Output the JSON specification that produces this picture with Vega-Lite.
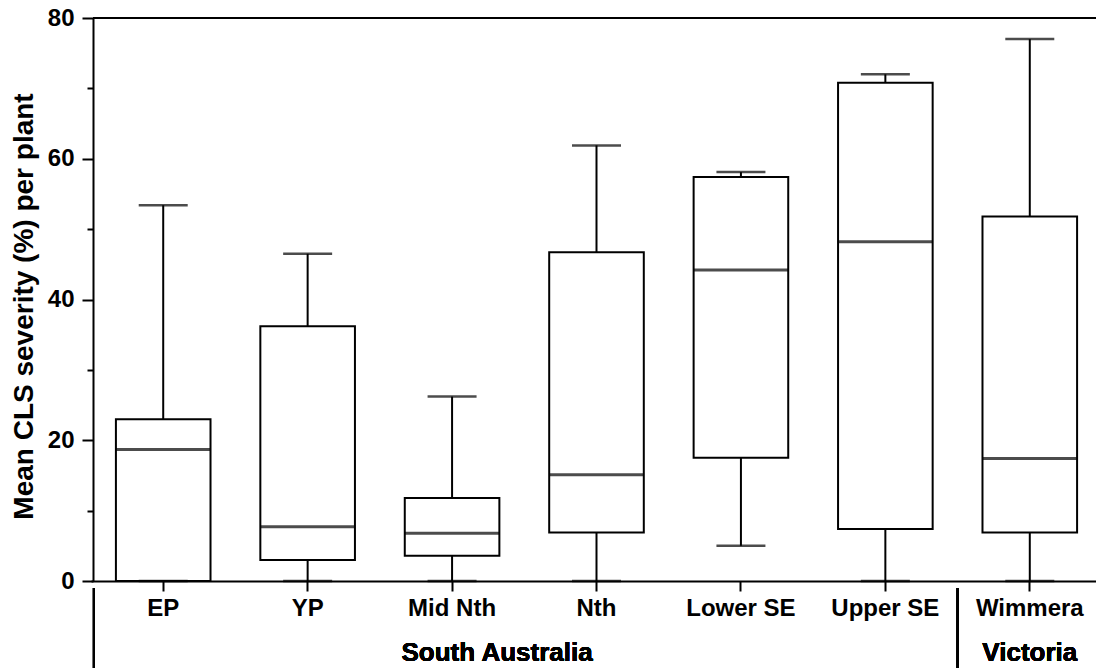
{
  "$schema": "https://vega.github.io/schema/vega-lite/v6.json",
  "width": 1003,
  "height": 563,
  "autosize": {"type": "none"},
  "padding": {"left": 93, "top": 18, "right": 0, "bottom": 87},
  "background": "white",
  "data": {
    "values": [
      {"site": "EP", "min": 0, "q1": 0, "median": 18.7, "q3": 23.0, "max": 53.4},
      {"site": "YP", "min": 0, "q1": 3.0, "median": 7.7, "q3": 36.2, "max": 46.5},
      {"site": "Mid Nth", "min": 0, "q1": 3.6, "median": 6.8, "q3": 11.8, "max": 26.2},
      {"site": "Nth", "min": 0, "q1": 6.9, "median": 15.1, "q3": 46.7, "max": 61.9},
      {"site": "Lower SE", "min": 5.0, "q1": 17.5, "median": 44.2, "q3": 57.4, "max": 58.1},
      {"site": "Upper SE", "min": 0, "q1": 7.4, "median": 48.2, "q3": 70.8, "max": 72.0},
      {"site": "Wimmera", "min": 0, "q1": 6.9, "median": 17.4, "q3": 51.8, "max": 77.0}
    ]
  },
  "encoding": {
    "x": {
      "field": "site",
      "type": "nominal",
      "sort": null,
      "scale": {
        "type": "band",
        "domain": ["EP", "YP", "Mid Nth", "Nth", "Lower SE", "Upper SE", "Wimmera"],
        "range": [-2, 1009],
        "paddingInner": 0,
        "paddingOuter": 0
      },
      "axis": {
        "title": null,
        "orient": "bottom",
        "labelAngle": 0,
        "tickSize": 10,
        "labelPadding": 5,
        "labelFontSize": 24
      }
    }
  },
  "layer": [
    {
      "mark": {"type": "rule", "color": "black", "strokeWidth": 2},
      "encoding": {"x": null, "y": {"datum": 80, "scale": {"domain": [0, 80], "nice": false}}}
    },
    {
      "mark": {"type": "rule", "color": "black", "strokeWidth": 2},
      "encoding": {
        "y": {"field": "min", "type": "quantitative", "title": "Mean CLS severity (%) per plant"},
        "y2": {"field": "q1"}
      }
    },
    {
      "mark": {"type": "rule", "color": "black", "strokeWidth": 2},
      "encoding": {
        "y": {"field": "q3", "type": "quantitative", "title": "Mean CLS severity (%) per plant"},
        "y2": {"field": "max"}
      }
    },
    {
      "mark": {"type": "bar", "fill": "white", "stroke": "black", "strokeWidth": 2, "width": {"band": 0.655}},
      "encoding": {
        "y": {
          "field": "q1",
          "type": "quantitative",
          "title": "Mean CLS severity (%) per plant",
          "scale": {"domain": [0, 80], "nice": false},
          "axis": {
            "values": [0, 10, 20, 30, 40, 50, 60, 70, 80],
            "labelExpr": "datum.value % 20 === 0 ? datum.label : ''",
            "tickSize": {"condition": {"test": "datum.value % 20 === 0", "value": 11}, "value": 6},
            "labelPadding": 8,
            "labelFontSize": 24,
            "titleFontSize": 28,
            "titleAngle": -90,
            "titleX": -69,
            "titleY": 288,
            "titleAlign": "center",
            "titleBaseline": "middle"
          }
        },
        "y2": {"field": "q3"}
      }
    },
    {
      "mark": {"type": "tick", "color": "black", "size": 95, "thickness": 3},
      "encoding": {"y": {"field": "median", "type": "quantitative", "title": "Mean CLS severity (%) per plant"}}
    },
    {
      "mark": {"type": "tick", "color": "black", "size": 49, "thickness": 2.5},
      "encoding": {"y": {"field": "max", "type": "quantitative", "title": "Mean CLS severity (%) per plant"}}
    },
    {
      "mark": {"type": "tick", "color": "black", "size": 49, "thickness": 2.5},
      "encoding": {"y": {"field": "min", "type": "quantitative", "title": "Mean CLS severity (%) per plant"}}
    },
    {
      "mark": {"type": "rule", "color": "black", "strokeWidth": 2},
      "encoding": {
        "x": {"datum": "EP", "bandPosition": 0.02},
        "y": {"datum": -1},
        "y2": {"datum": -12.4}
      }
    },
    {
      "mark": {"type": "rule", "color": "black", "strokeWidth": 2},
      "encoding": {
        "x": {"datum": "Wimmera", "bandPosition": 0},
        "y": {"datum": -1},
        "y2": {"datum": -12.4}
      }
    },
    {
      "mark": {"type": "text", "font": "Liberation Sans", "fontWeight": "bold", "fontSize": 26, "dx": 45, "baseline": "middle", "align": "center", "color": "black"},
      "encoding": {
        "x": {"datum": "Mid Nth"},
        "y": {"datum": -10.2},
        "text": {"value": "South Australia"}
      }
    },
    {
      "mark": {"type": "text", "font": "Liberation Sans", "fontWeight": "bold", "fontSize": 26, "baseline": "middle", "align": "center", "color": "black"},
      "encoding": {
        "x": {"datum": "Wimmera"},
        "y": {"datum": -10.2},
        "text": {"value": "Victoria"}
      }
    }
  ],
  "config": {
    "view": {"stroke": null},
    "axis": {
      "grid": false,
      "domainColor": "black",
      "domainWidth": 2,
      "tickColor": "black",
      "tickWidth": 2,
      "labelColor": "black",
      "labelFont": "Liberation Sans",
      "labelFontWeight": "bold",
      "labelFontSize": 22,
      "titleFont": "Liberation Sans",
      "titleFontWeight": "bold",
      "titleFontSize": 22,
      "titleColor": "black"
    }
  }
}
